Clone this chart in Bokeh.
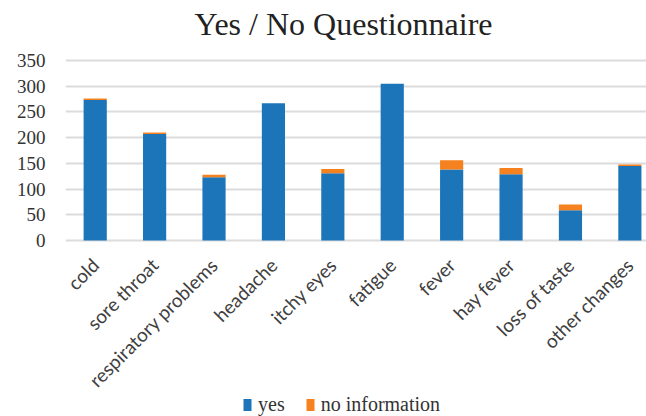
import math
from bokeh.plotting import figure
from bokeh.models import Range1d, FixedTicker, Legend, LegendItem, ColumnDataSource, Label
from bokeh.core.properties import value
from bokeh.embed import file_html
from bokeh.resources import INLINE

categories = ["cold", "sore throat", "respiratory problems", "headache", "itchy eyes",
              "fatigue", "fever", "hay fever", "loss of taste", "other changes"]
yes = [273, 207, 123, 267, 131, 305, 138, 129, 59, 145]
no_info = [3, 3, 5, 0, 8, 0, 18, 12, 11, 3]
series = ["yes", "no_info"]
series_labels = ["yes", "no information"]
colors = ["#1b75b8", "#f5821f"]
y_ticks = [0, 50, 100, 150, 200, 250, 300, 350]
title_text = "Yes / No Questionnaire"

xs = list(range(len(categories)))
source = ColumnDataSource(dict(x=xs, yes=yes, no_info=no_info, cat=categories))

# frame covers the full figure height; the value scale is 0..350 over 180 px
px_per_unit = 180 / 350
p = figure(width=646, height=416, output_backend="svg", toolbar_location=None,
           x_range=Range1d(-0.5, 9.28),
           y_range=Range1d(-176 / px_per_unit, 240 / px_per_unit),
           x_axis_location=None,
           min_border_left=65, min_border_right=0, min_border_top=0,
           min_border_bottom=0)
p.title.visible = False

renderers = p.vbar_stack(series, x="x", width=0.39, color=colors, source=source,
                         line_color=None)

p.outline_line_color = None
p.background_fill_color = "white"
p.xgrid.visible = False
p.ygrid.grid_line_color = "#dcdcdc"
p.ygrid.grid_line_width = 2

p.yaxis.ticker = FixedTicker(ticks=y_ticks)
p.yaxis.axis_line_color = None
p.yaxis.major_tick_line_color = None
p.yaxis.minor_tick_line_color = None
p.yaxis.major_label_text_font = "Liberation Serif"
p.yaxis.major_label_text_font_size = "19px"
p.yaxis.major_label_text_color = "#333333"
p.yaxis.major_label_standoff = 14

# category labels, rotated 45 degrees under the bars
p.text(x="x", y=0, text="cat", source=source, angle=math.pi / 4,
       text_align="right", text_baseline="middle", x_offset=0, y_offset=21,
       text_font=value("Lato"), text_font_size="19px", text_color="#404040")

title = Label(x=129, y=416 - 23, x_units="screen", y_units="screen",
              text=title_text, text_font="Liberation Serif", text_font_size="32px",
              text_color="#222222", text_baseline="alphabetic", text_align="left")
p.add_layout(title)

legend = Legend(items=[LegendItem(label=l, renderers=[r]) for l, r in zip(series_labels, renderers)],
                orientation="horizontal", location=(177, 0),
                label_text_font="Liberation Serif", label_text_font_size="20px",
                label_text_color="#333333",
                glyph_width=10, glyph_height=15, spacing=20, label_standoff=6,
                border_line_color=None, background_fill_alpha=0, padding=0, margin=0)
p.add_layout(legend, "center")

open("out.html", "w").write(file_html(p, INLINE))
